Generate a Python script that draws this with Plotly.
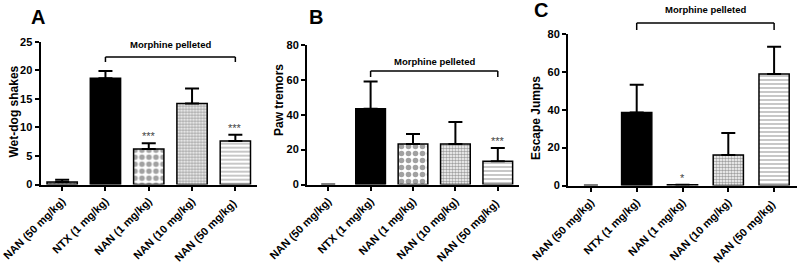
import plotly.graph_objects as go

categories = ["NAN (50 mg/kg)", "NTX (1 mg/kg)", "NAN (1 mg/kg)", "NAN (10 mg/kg)", "NAN (50 mg/kg) "]

wds_mean = [0.45, 18.6, 6.2, 14.2, 7.6]
wds_err = [0.4, 1.25, 1.0, 2.6, 1.1]

paw_mean = [0.0, 43.4, 23.2, 23.2, 13.3]
paw_err = [0.0, 15.6, 5.8, 12.6, 7.7]

jump_mean = [0.0, 38.6, 0.35, 16.1, 58.9]
jump_err = [0.0, 14.6, 0.0, 11.6, 14.4]

stars_A = ["", "", "***", "", "***"]
stars_B = ["", "", "", "", "***"]
stars_C = ["", "", "*", "", ""]

panel_titles = ["Wet-dog shakes", "Paw tremors", "Escape Jumps"]
panel_letters = ["A", "B", "C"]
bracket_label = "Morphine pelleted"

FONT = "Arial, Liberation Sans, sans-serif"

W, H = 800, 264


def X(px):
    return px / W


def Y(py):
    return 1 - py / H


# bar styles (per category)
fills = ["#9a9a9a", "black", "white", "white", "white"]
shapes_p = [".", "", ".", ".", "-"]
fg = ["#555555", "black", "black", "#222222", "#8a8a8a"]
psize = [4, 8, 7, 3, 4]
psol = [0.4, 0.5, 0.5, 0.55, 0.3]

fig = go.Figure()

panels = [
    (wds_mean, wds_err, stars_A, "x", "y", [0, 25], 5),
    (paw_mean, paw_err, stars_B, "x2", "y2", [0, 80], 20),
    (jump_mean, jump_err, stars_C, "x3", "y3", [0, 80], 20),
]
widths = [0.7, 0.7, 0.66]

for i, (m, e, st, xa, ya, rng, dt) in enumerate(panels):
    lw = [1.5 if v > 0 else 0 for v in m]
    err = [v if v > 0 else None for v in e]
    fig.add_trace(go.Bar(
        x=categories, y=m, xaxis=xa, yaxis=ya, width=widths[i],
        marker=dict(color=fills, line=dict(color="black", width=lw),
                    pattern=dict(shape=shapes_p, fgcolor=fg, bgcolor=fills,
                                 size=psize, solidity=psol, fillmode="overlay")),
        error_y=dict(type="data", array=err, arrayminus=[0] * 5, symmetric=False,
                     color="black", thickness=2, width=7),
        showlegend=False, hoverinfo="skip",
    ))
    for c, mv, ev, s in zip(categories, m, e, st):
        if s:
            fig.add_annotation(x=c, y=mv + ev, xref=xa, yref=ya, text=s,
                               showarrow=False, yanchor="bottom", yshift=-1,
                               font=dict(family=FONT, size=11, color="#444444"))

axfont = dict(family=FONT, size=11, color="black", weight="bold")
xfont = dict(family=FONT, size=11, color="black", weight="bold")

xdom = [[X(40.5), X(257)], [X(307), X(519)], [X(568), X(797)]]
ydom = [[Y(184.5), Y(41.7)], [Y(184.5), Y(45)], [Y(185.5), Y(34)]]

for i in range(3):
    sfx = "" if i == 0 else str(i + 1)
    rng = panels[i][5]
    dt = panels[i][6]
    fig.layout["xaxis" + sfx] = dict(
        domain=xdom[i], anchor="y" + sfx, range=[-0.5, 4.5], automargin=False,
        showline=True, linecolor="black", linewidth=2,
        ticks="outside", ticklen=4, tickwidth=1.5, tickcolor="black",
        tickangle=-45, tickfont=xfont, showgrid=False, zeroline=False,
        fixedrange=True,
    )
    fig.layout["yaxis" + sfx] = dict(
        domain=ydom[i], anchor="x" + sfx, range=rng, dtick=dt, automargin=False,
        showline=True, linecolor="black", linewidth=2,
        ticks="outside", ticklen=4, tickwidth=1.5, tickcolor="black",
        tickfont=axfont, showgrid=False, zeroline=False, fixedrange=True,
    )

# axis titles
title_pos = [(13.5, 112), (279, 100), (536, 118)]
for (tx, ty), t in zip(title_pos, panel_titles):
    fig.add_annotation(x=X(tx), y=Y(ty), xref="paper", yref="paper", text=t, textangle=-90,
                       showarrow=False, xanchor="center", yanchor="middle",
                       font=dict(family=FONT, size=12, color="black", weight="bold"))

# panel letters
letter_pos = [(38, 17), (316, 17), (541, 10)]
for (lx, ly), t in zip(letter_pos, panel_letters):
    fig.add_annotation(x=X(lx), y=Y(ly), xref="paper", yref="paper", text=t,
                       showarrow=False, xanchor="center", yanchor="middle",
                       font=dict(family=FONT, size=20, color="black", weight="bold"))

# "Morphine pelleted" brackets (px from top: bracket top, leg bottom, text)
brackets = [("x", 57, 62, 45), ("x2", 71, 77, 61), ("x3", 23, 30, 10)]
for xa, ytop, ybot, ytxt in brackets:
    yt = Y(ytop)
    yb = Y(ybot)
    for (x0, y0, x1, y1) in [(categories[1], yb, categories[1], yt),
                             (categories[1], yt, categories[4], yt),
                             (categories[4], yt, categories[4], yb)]:
        fig.add_shape(type="line", xref=xa, yref="paper", x0=x0, y0=y0, x1=x1, y1=y1,
                      line=dict(color="black", width=1.5))
    fig.add_annotation(x=2.5, y=Y(ytxt), xref=xa, yref="paper", text=bracket_label,
                       showarrow=False, xanchor="center", yanchor="middle",
                       font=dict(family=FONT, size=9.5, color="black", weight="bold"))

fig.update_layout(
    width=W, height=H, margin=dict(l=0, r=0, t=0, b=0),
    plot_bgcolor="white", paper_bgcolor="white", bargap=0.3,
)

fig.write_html("out.html", config={"displayModeBar": False},
               post_script="document.body.style.margin='0';document.body.style.overflow='hidden';")
